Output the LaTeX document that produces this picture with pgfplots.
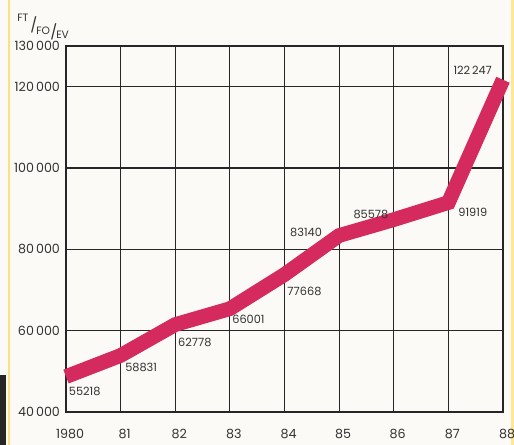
\documentclass[border=0pt]{standalone}
\usepackage{pgfplots}
\pgfplotsset{compat=1.18}
\usepackage{fontspec}
\setmainfont{Poppins}
\definecolor{paper}{HTML}{FBFAF6}
\definecolor{linecol}{HTML}{D42A5E}
\definecolor{txt}{HTML}{333333}
\begin{document}
\begin{tikzpicture}[x=0.75pt,y=0.75pt]
\useasboundingbox (0,0) rectangle (514,445);
\fill[paper] (0,0) rectangle (514,445);
\fill[black!85] (0,0) rectangle (6,70);
\fill[yellow!60!orange!50] (8,0) rectangle (10,445);
\fill[yellow!60!orange!40] (511,0) rectangle (514,445);
\begin{axis}[
  at={(49.5pt,24.75pt)}, anchor=south west,
  scale only axis, width=327.75pt, height=274.5pt,
  xmin=0, xmax=8, ymin=40000, ymax=130000,
  xtick={0,...,8}, xticklabels={1980,81,82,83,84,85,86,87,88},
  ytick={40000,60000,80000,100000,120000,130000},
  yticklabels={40\,000,60\,000,80\,000,100\,000,120\,000,130\,000},
  scaled y ticks=false,
  /pgf/number format/assume math mode=true,
  tick style={draw=none},
  xmajorgrids, ymajorgrids,
  grid style={black!85, line width=0.9pt},
  axis line style={black!85, line width=1pt},
  ticklabel style={font=\fontsize{9.5}{10}\selectfont, text=txt},
  xticklabel style={yshift=-9pt, xshift=3pt},
  yticklabel style={xshift=-1pt},
  clip=false,
]
\addplot[linecol, line width=11pt, line join=miter, line cap=butt] coordinates {
 (0,48700) (1,53900) (2,61500) (3,65400) (4,73800) (5,83400) (6,87300) (7,91500) (8,121700)
};
\begin{scope}[every node/.style={font=\fontsize{8.5}{9}\selectfont, text=txt, anchor=west, inner sep=0pt}]
\node at (axis cs:0.05,45000) {55218};
\node at (axis cs:1.08,50900) {58831};
\node at (axis cs:2.05,57100) {62778};
\node at (axis cs:3.04,62700) {66001};
\node at (axis cs:4.05,69600) {77668};
\node at (axis cs:4.10,84100) {83140};
\node at (axis cs:5.26,88500) {85578};
\node at (axis cs:7.18,89000) {91919};
\node at (axis cs:7.09,124100) {122\,247};
\end{scope}
\end{axis}
\begin{scope}[every node/.style={font=\fontsize{8}{8}\selectfont, text=txt, inner sep=0pt}]
\node[anchor=west] at (17,427) {FT};
\node[anchor=west] at (30,420) {\fontsize{11}{11}\selectfont /};
\node[anchor=west] at (36,414) {FO};
\node[anchor=west] at (50,413) {\fontsize{11}{11}\selectfont /};
\node[anchor=west] at (56,410) {EV};
\end{scope}
\end{tikzpicture}
\end{document}
